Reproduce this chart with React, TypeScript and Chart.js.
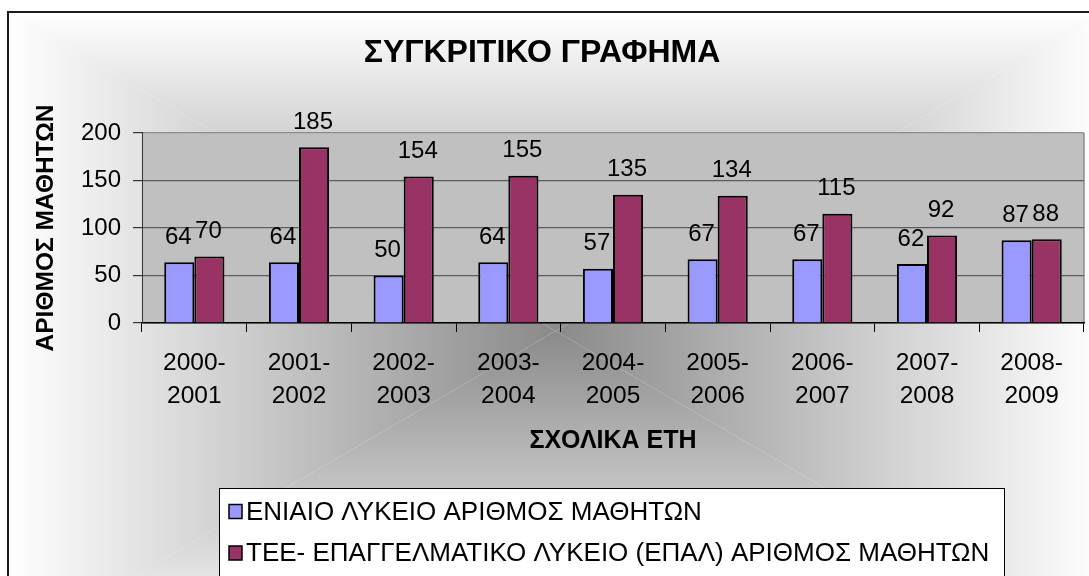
import React, { useEffect, useRef } from "react";
import { Chart, registerables } from "chart.js";

Chart.register(...registerables);

const categories: string[][] = [
  ["2000-", "2001"],
  ["2001-", "2002"],
  ["2002-", "2003"],
  ["2003-", "2004"],
  ["2004-", "2005"],
  ["2005-", "2006"],
  ["2006-", "2007"],
  ["2007-", "2008"],
  ["2008-", "2009"],
];
const eniaioValues = [64, 64, 50, 64, 57, 67, 67, 62, 87];
const teeValues = [70, 185, 154, 155, 135, 134, 115, 92, 88];
const seriesLabels = [
  "ΕΝΙΑΙΟ ΛΥΚΕΙΟ ΑΡΙΘΜΟΣ ΜΑΘΗΤΩΝ",
  "ΤΕΕ- ΕΠΑΓΓΕΛΜΑΤΙΚΟ ΛΥΚΕΙΟ (ΕΠΑΛ) ΑΡΙΘΜΟΣ ΜΑΘΗΤΩΝ",
];
const seriesColors = ["#9999FF", "#993366"];
const titleText = "ΣΥΓΚΡΙΤΙΚΟ ΓΡΑΦΗΜΑ";
const yTitleText = "ΑΡΙΘΜΟΣ ΜΑΘΗΤΩΝ";
const xTitleText = "ΣΧΟΛΙΚΑ ΕΤΗ";
const yTicks = { min: 0, max: 200, step: 50 };

const FONT = '"Liberation Sans", Arial, Helvetica, sans-serif';
const W = 1089;
const H = 576;

const backgroundPlugin = {
  id: "bgPlugin",
  beforeDraw(chart: any) {
    const ctx = chart.ctx;
    ctx.save();
    ctx.fillStyle = "#ffffff";
    ctx.fillRect(0, 0, W, H);
    // rectangular "from centre" gradient
    const L = 8, T = 12, R = 1103, B = 650;
    const cx = (L + R) / 2, cy = (T + B) / 2;
    const inner = "#8a8a8a", outer = "#ffffff";
    const tris = [
      { pts: [[L, T], [R, T]], to: [cx, T] },
      { pts: [[R, T], [R, B]], to: [R, cy] },
      { pts: [[R, B], [L, B]], to: [cx, B] },
      { pts: [[L, B], [L, T]], to: [L, cy] },
    ];
    for (const t of tris) {
      ctx.save();
      ctx.beginPath();
      ctx.moveTo(cx, cy);
      ctx.lineTo(t.pts[0][0], t.pts[0][1]);
      ctx.lineTo(t.pts[1][0], t.pts[1][1]);
      ctx.closePath();
      ctx.clip();
      const g = ctx.createLinearGradient(cx, cy, t.to[0], t.to[1]);
      g.addColorStop(0, inner);
      g.addColorStop(1, outer);
      ctx.fillStyle = g;
      ctx.fillRect(L, T, R - L, B - T);
      ctx.restore();
    }
    // outer border
    ctx.strokeStyle = "#1a1a1a";
    ctx.lineWidth = 2;
    ctx.strokeRect(L, T, R - L, B - T);
    // plot area
    const a = chart.chartArea;
    ctx.fillStyle = "#C0C0C0";
    ctx.fillRect(a.left, a.top, a.right - a.left, a.bottom - a.top);
    ctx.strokeStyle = "#8c8c8c";
    ctx.lineWidth = 1.5;
    ctx.beginPath();
    ctx.moveTo(a.right, a.top);
    ctx.lineTo(a.right, a.bottom);
    ctx.stroke();
    ctx.restore();
  },
};

const dataLabelPlugin = {
  id: "dataLabels",
  afterDatasetsDraw(chart: any) {
    const ctx = chart.ctx;
    ctx.save();
    ctx.font = `24px ${FONT}`;
    ctx.fillStyle = "#000";
    ctx.textAlign = "center";
    ctx.textBaseline = "middle";
    chart.data.datasets.forEach((ds: any, i: number) => {
      const meta = chart.getDatasetMeta(i);
      meta.data.forEach((el: any, j: number) => {
        ctx.fillText(String(ds.data[j]), el.x - 1, el.y - 25);
      });
    });
    ctx.restore();
  },
};

const legendPlugin = {
  id: "boxLegend",
  afterDraw(chart: any) {
    const ctx = chart.ctx;
    ctx.save();
    const bx = 219.5, by = 488.5, bw = 785, bh = 120;
    ctx.fillStyle = "#ffffff";
    ctx.fillRect(bx, by, bw, bh);
    ctx.strokeStyle = "#000";
    ctx.lineWidth = 1;
    ctx.strokeRect(bx, by, bw, bh);
    ctx.font = `26px ${FONT}`;
    ctx.textAlign = "left";
    ctx.textBaseline = "middle";
    const rows = [511.5, 553];
    chart.data.datasets.forEach((ds: any, i: number) => {
      const y = rows[i];
      ctx.fillStyle = ds.backgroundColor;
      ctx.fillRect(229, y - 7, 13, 14);
      ctx.strokeStyle = "#000";
      ctx.lineWidth = 1.5;
      ctx.strokeRect(229, y - 7, 13, 14);
      ctx.fillStyle = "#000";
      ctx.fillText(ds.label, 246, y + 1);
    });
    ctx.restore();
  },
};

export default function App() {
  const ref = useRef<HTMLCanvasElement | null>(null);
  useEffect(() => {
    if (!ref.current) return;
    const chart = new Chart(ref.current, {
      type: "bar",
      data: {
        labels: categories as any,
        datasets: [
          {
            label: seriesLabels[0],
            data: eniaioValues,
            backgroundColor: seriesColors[0],
            borderColor: "#000",
            borderWidth: 2,
            barPercentage: 1,
            categoryPercentage: 0.575,
          },
          {
            label: seriesLabels[1],
            data: teeValues,
            backgroundColor: seriesColors[1],
            borderColor: "#000",
            borderWidth: 2,
            barPercentage: 1,
            categoryPercentage: 0.575,
          },
        ],
      },
      plugins: [backgroundPlugin, dataLabelPlugin, legendPlugin],
      options: {
        responsive: false,
        animation: false,
        devicePixelRatio: 1,
        layout: { padding: { left: 0, right: 5, top: 0, bottom: 113 } },
        plugins: {
          legend: { display: false },
          tooltip: { enabled: false },
          title: {
            display: true,
            text: titleText,
            color: "#000",
            font: { family: FONT, size: 32, weight: "bold", lineHeight: 1.2 },
            padding: { top: 33.5, bottom: 61 },
          },
        },
        scales: {
          x: {
            afterFit(scale: any) {
              scale.height = 140;
            },
            grid: {
              display: true,
              drawOnChartArea: false,
              drawTicks: true,
              tickLength: 9,
              color: "#000",
              lineWidth: 1,
            },
            border: { display: true, color: "#000", width: 1.5 },
            ticks: {
              color: "#000",
              font: { family: FONT, size: 24.5, lineHeight: 1.35 },
              padding: 15,
              maxRotation: 0,
              autoSkip: false,
            },
            title: {
              display: true,
              text: xTitleText,
              color: "#000",
              font: { family: FONT, size: 25, weight: "bold", lineHeight: 1.2 },
              padding: { top: 0, bottom: 7 },
            },
          },
          y: {
            min: yTicks.min,
            max: yTicks.max,
            afterFit(scale: any) {
              scale.width = 142;
            },
            grid: {
              color: (c: any) => (c.tick && c.tick.value === yTicks.max ? "#8c8c8c" : "#5c5c5c"),
              tickColor: "#333",
              tickLength: 9,
              lineWidth: 1.2,
            },
            border: { display: true, color: "#333", width: 1 },
            ticks: {
              stepSize: yTicks.step,
              color: "#000",
              font: { family: FONT, size: 24 },
              padding: 12,
            },
            title: {
              display: true,
              text: yTitleText,
              color: "#000",
              font: { family: FONT, size: 24.5, weight: "bold", lineHeight: 1.2 },
              padding: { top: 32, bottom: 0 },
            },
          },
        },
      } as any,
    });
    return () => chart.destroy();
  }, []);
  return (
    <div style={{ position: "absolute", left: 0, top: 0, width: W, height: H, overflow: "hidden" }}>
      <canvas ref={ref} width={W} height={H} style={{ display: "block", width: W, height: H }} />
    </div>
  );
}
